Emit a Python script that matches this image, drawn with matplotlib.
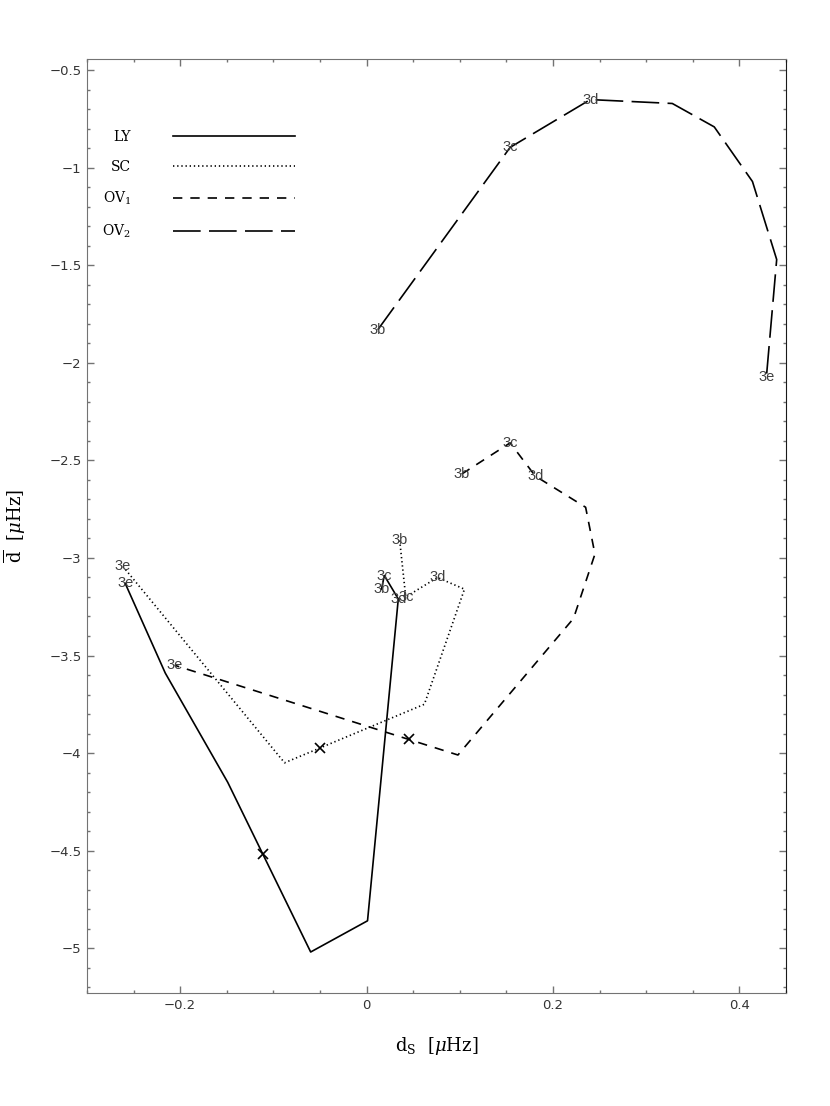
import matplotlib
matplotlib.use("Agg")
import matplotlib.pyplot as plt
from matplotlib.ticker import MultipleLocator, FixedLocator, FixedFormatter

plt.rcParams["mathtext.fontset"] = "dejavuserif"

# --- values ---
ly_x = [0.016, 0.019, 0.034, 0.001, -0.060, -0.149, -0.216, -0.259]
ly_y = [-3.16, -3.09, -3.21, -4.86, -5.02, -4.15, -3.59, -3.13]
ly_tag_idx = [0, 1, 2, 7]

sc_x = [0.0355, 0.042, 0.076, 0.105, 0.062, -0.088, -0.262]
sc_y = [-2.91, -3.20, -3.10, -3.16, -3.75, -4.05, -3.04]
sc_tag_idx = [0, 1, 2, 6]

ov1_x = [0.102, 0.154, 0.181, 0.235, 0.245, 0.222, 0.098, -0.206]
ov1_y = [-2.57, -2.41, -2.58, -2.74, -2.98, -3.31, -4.01, -3.55]
ov1_tag_idx = [0, 1, 2, 7]

ov2_x = [0.012, 0.154, 0.240, 0.328, 0.373, 0.414, 0.440, 0.429]
ov2_y = [-1.83, -0.895, -0.65, -0.67, -0.79, -1.07, -1.47, -2.07]
ov2_tag_idx = [0, 1, 2, 7]

tag_txt = ["3b", "3c", "3d", "3e"]

# crosses on the tracks
cross_x = [-0.111, -0.050, 0.045]
cross_y = [-4.52, -3.974, -3.93]

xtick_vals = [-0.2, 0, 0.2, 0.4]
xtick_labels = ["\u22120.2", "0", "0.2", "0.4"]
ytick_vals = [-0.5, -1, -1.5, -2, -2.5, -3, -3.5, -4, -4.5, -5]
ytick_labels = ["\u22120.5", "\u22121", "\u22121.5", "\u22122", "\u22122.5",
                "\u22123", "\u22123.5", "\u22124", "\u22124.5", "\u22125"]

series_names = ["LY", "SC", r"OV$_1$", r"OV$_2$"]

fig = plt.figure(figsize=(8.3, 11.06), dpi=100)
ax = fig.add_axes([0.1048, 0.1022, 0.8422, 0.8448])

lw = 1.2
styles = ["-", (0, (0.8, 1.7)), (0, (5.6, 4.8)), (0, (16.6, 5.0))]
tracks = [(ly_x, ly_y, ly_tag_idx), (sc_x, sc_y, sc_tag_idx),
          (ov1_x, ov1_y, ov1_tag_idx), (ov2_x, ov2_y, ov2_tag_idx)]

for (xs, ys, idx), ls, name in zip(tracks, styles, series_names):
    ax.plot(xs, ys, color="black", lw=lw, linestyle=ls, label=name)
    for k, i in enumerate(idx):
        ax.text(xs[i], ys[i], tag_txt[k], ha="center", va="center",
                fontsize=10.5, family="Liberation Sans", color="0.25")

ax.plot(cross_x, cross_y, linestyle="none", marker="x", ms=7, mew=1.2, color="black")

ax.set_xlim(-0.3, 0.45)
ax.set_ylim(-5.23, -0.44)

ax.xaxis.set_major_locator(FixedLocator(xtick_vals))
ax.xaxis.set_major_formatter(FixedFormatter(xtick_labels))
ax.yaxis.set_major_locator(FixedLocator(ytick_vals))
ax.yaxis.set_major_formatter(FixedFormatter(ytick_labels))
ax.xaxis.set_minor_locator(MultipleLocator(0.05))
ax.yaxis.set_minor_locator(MultipleLocator(0.1))
ax.tick_params(which="both", direction="in", top=True, right=True,
               color="0.45", labelsize=9.5, pad=4)
ax.tick_params(which="major", length=5, width=1)
ax.tick_params(which="minor", length=2.5, width=1)
for lab in ax.get_xticklabels() + ax.get_yticklabels():
    lab.set_family("DejaVu Sans")
    lab.set_color("0.2")
for s in ["left", "bottom", "top"]:
    ax.spines[s].set_color("0.45")
ax.spines["right"].set_color("0.1")

ax.set_xlabel(r"$\mathrm{d_S}\ \ [\mu\mathrm{Hz}]$", fontsize=13, labelpad=17)
ax.set_ylabel(r"$\overline{\mathrm{d}}\ \ [\mu\mathrm{Hz}]$", fontsize=13, labelpad=15)

leg = ax.legend(loc="upper left", bbox_to_anchor=(0.022, 0.924), frameon=False,
                markerfirst=False, handlelength=8.8, handletextpad=3.0,
                labelspacing=1.15, borderpad=0, borderaxespad=0,
                prop={"family": "DejaVu Serif", "size": 10})

fig.savefig("out.png", dpi=100)
